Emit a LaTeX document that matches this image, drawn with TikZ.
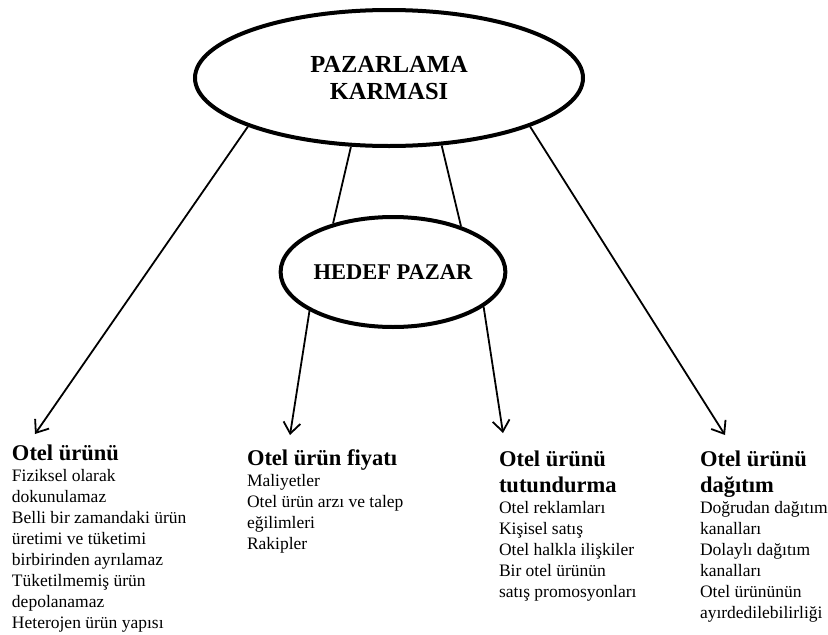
\documentclass[tikz,border=0pt]{standalone}
\usepackage{fontspec}
\setmainfont{Liberation Serif}
\usetikzlibrary{shapes.geometric,arrows.meta}

% fonts for the ellipses, the column headings and the column items
\newcommand\mixfont{\fontsize{24.5}{27}\selectfont\bfseries}
\newcommand\targetfont{\fontsize{22.5}{27}\selectfont\bfseries}
\newcommand\headfont{\fontsize{22.5}{26}\selectfont\bfseries}
\newcommand\itemfont{\fontsize{17.5}{21}\selectfont\mdseries}
% a text column: heading lines, then item lines, first baseline on top
\newcommand\coltext[2]{\vtop{\headfont\baselineskip=26pt #1\itemfont\baselineskip=21pt #2}}
\newcommand\rowline[1]{\hbox{#1}}

\tikzset{
  ring/.style={draw, ellipse, line width=4pt, inner sep=0pt, align=center},
  link/.style={line width=1.8pt},
  arrowlink/.style={link, -{Straight Barb[length=11pt,width=17pt,line width=1.8pt]}},
  column/.style={anchor=base west, inner sep=0pt, outer sep=0pt},
}

\begin{document}
\begin{tikzpicture}[x=1pt,y=-1pt]
  \useasboundingbox (0,0) rectangle (828,635);

  % the two ellipses
  \node[ring, minimum width=388pt, minimum height=136pt, font=\mixfont]
        (mix) at (389,78) {PAZARLAMA\\KARMASI};
  \node[ring, minimum width=202pt, minimum height=110pt, font=\targetfont]
        (target) at (393,272) {HEDEF PAZAR};

  % arrow ends above the four columns
  \coordinate (t1) at (35,434);
  \coordinate (t2) at (290,435);
  \coordinate (t3) at (503,433);
  \coordinate (t4) at (725,435);

  % the four columns
  \node[column] (product) at (12,460) {\coltext{\rowline{Otel ürünü}}{%
      \rowline{Fiziksel olarak}\rowline{dokunulamaz}\rowline{Belli bir zamandaki ürün}%
      \rowline{üretimi ve tüketimi}\rowline{birbirinden ayrılamaz}%
      \rowline{Tüketilmemiş ürün}\rowline{depolanamaz}\rowline{Heterojen ürün yapısı}}};
  \node[column] (price) at (247,465) {\coltext{\rowline{Otel ürün fiyatı}}{%
      \rowline{Maliyetler}\rowline{Otel ürün arzı ve talep}\rowline{eğilimleri}\rowline{Rakipler}}};
  \node[column] (promo) at (499,466) {\coltext{\rowline{Otel ürünü}\rowline{tutundurma}}{%
      \rowline{Otel reklamları}\rowline{Kişisel satış}\rowline{Otel halkla ilişkiler}%
      \rowline{Bir otel ürünün}\rowline{satış promosyonları}}};
  \node[column] (place) at (700,466) {\coltext{\rowline{Otel ürünü}\rowline{dağıtım}}{%
      \rowline{Doğrudan dağıtım}\rowline{kanalları}\rowline{Dolaylı dağıtım}\rowline{kanalları}%
      \rowline{Otel ürününün}\rowline{ayırdedilebilirliği}}};

  % connectors
  \draw[link] (mix.241) -- (target.141);
  \draw[link] (mix.308) -- (target.34);
  \draw[arrowlink] (mix.199) -- (t1);
  \draw[arrowlink] (target.205) -- (t2);
  \draw[arrowlink] (target.339) -- (t3);
  \draw[arrowlink] (mix.341) -- (t4);
\end{tikzpicture}
\end{document}
